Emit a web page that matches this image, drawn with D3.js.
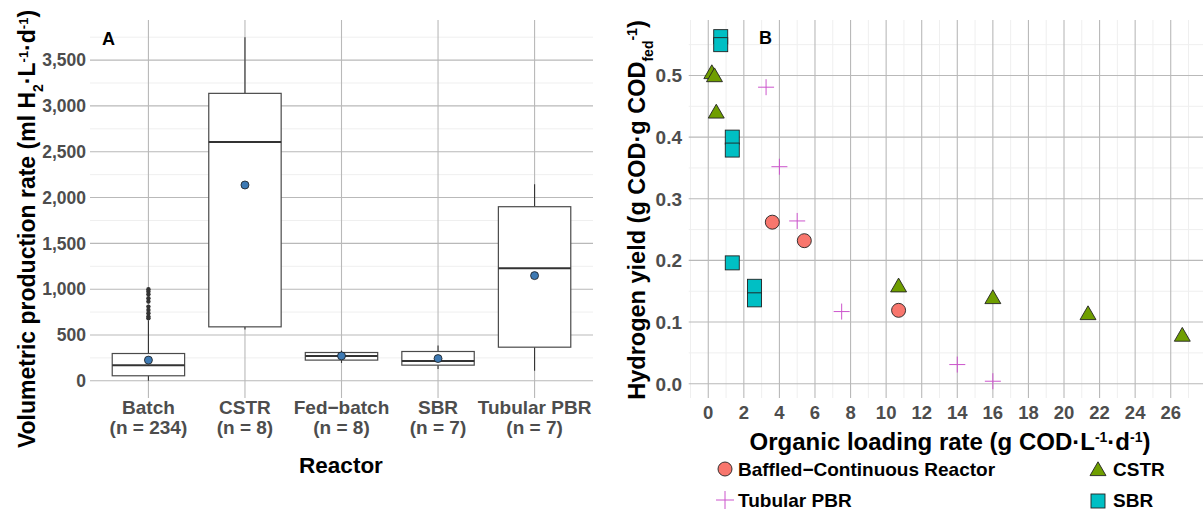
<!DOCTYPE html>
<html>
  <head>
    <meta charset="utf-8">
    <style>
      body { margin: 0; background: white; }
      svg text { font-family: "Liberation Sans", Arial, sans-serif; font-weight: bold; }
    </style>
    <script src="https://d3js.org/d3.v7.min.js"></script>
    <title>hydrogen reactors</title>
  </head>
  <body>
    <div id="my_dataviz"></div>
    <script>
    // ---------------- panel A data (box plots)
    var reactors = ["Batch", "CSTR", "Fed\u2212batch", "SBR", "Tubular PBR"]
    var counts = ["(n = 234)", "(n = 8)", "(n = 8)", "(n = 7)", "(n = 7)"]
    var whiskerLow = [0, 560, 195, 130, 110]
    var q1 = [55, 589, 226, 171, 367]
    var medians = [171, 2606, 272, 215, 1229]
    var q3 = [298, 3137, 309, 320, 1900]
    var whiskerHigh = [660, 3748, 330, 385, 2144]
    var means = [226, 2137, 272, 243, 1148]
    var batchOutliers = [1000, 974, 945, 902, 865, 810, 774, 738, 701, 684]
    var yTicksA = [0, 500, 1000, 1500, 2000, 2500, 3000, 3500]

    // ---------------- panel B data (scatter)
    var baffledOLR = [3.6, 5.4, 10.7]
    var baffledYield = [0.262, 0.232, 0.119]
    var cstrOLR = [0.2, 0.35, 0.45, 10.7, 16.0, 21.35, 26.65]
    var cstrYield = [0.504, 0.499, 0.44, 0.158, 0.139, 0.113, 0.078]
    var sbrOLR = [0.7, 0.7, 1.35, 1.35, 1.35, 2.6, 2.6]
    var sbrYield = [0.563, 0.550, 0.400, 0.379, 0.196, 0.158, 0.136]
    var pbrOLR = [3.25, 4.0, 5.0, 7.5, 14.0, 16.0]
    var pbrYield = [0.481, 0.352, 0.264, 0.117, 0.031, 0.004]
    var xTicksB = [0, 2, 4, 6, 8, 10, 12, 14, 16, 18, 20, 22, 24, 26]
    var yTicksB = [0, 0.1, 0.2, 0.3, 0.4, 0.5]

    var colBaffled = "#F8766D", colCstr = "#6f9e00", colSbr = "#00BFC4", colPbr = "#cc55cc"
    var gridMajor = "#b9b9b9", gridMinor = "#efefef", tickCol = "#4d4d4d"

    var svg = d3.select("#my_dataviz")
      .append("svg")
        .attr("width", 1203)
        .attr("height", 515)

    // ================= PANEL A
    var plotTop = 20, plotBottom = 398
    var xA = d3.scalePoint().domain(reactors).range([90.5, 592.5]).padding(0.6)
    var yA = d3.scaleLinear().domain([-187.5, 3937.5]).range([plotBottom, plotTop])
    var boxW = xA.step() * 0.75

    var gA = svg.append("g")
    // minor grid
    gA.selectAll(".minA").data(d3.range(250, 3800, 500)).enter().append("line")
      .attr("x1", 90).attr("x2", 593)
      .attr("y1", d => yA(d)).attr("y2", d => yA(d))
      .style("stroke", gridMinor).style("stroke-width", 1)
    gA.selectAll(".majA").data(yTicksA).enter().append("line")
      .attr("x1", 90).attr("x2", 593)
      .attr("y1", d => yA(d)).attr("y2", d => yA(d))
      .style("stroke", gridMajor).style("stroke-width", 1.1)
    gA.selectAll(".vA").data(reactors).enter().append("line")
      .attr("x1", d => xA(d)).attr("x2", d => xA(d))
      .attr("y1", plotTop).attr("y2", plotBottom)
      .style("stroke", gridMajor).style("stroke-width", 1.1)

    // y tick labels
    gA.selectAll(".tyA").data(yTicksA).enter().append("text")
      .attr("x", 86).attr("y", d => yA(d)).attr("dy", "0.36em")
      .attr("text-anchor", "end").style("font-size", "17.5px").style("fill", tickCol)
      .text(d => d3.format(",")(d))
    // x tick labels (two lines)
    var xl = gA.selectAll(".txA").data(reactors).enter().append("text")
      .attr("text-anchor", "middle").style("font-size", "19px").style("fill", tickCol)
    xl.append("tspan").attr("x", d => xA(d)).attr("y", 414).text(d => d)
    xl.append("tspan").attr("x", d => xA(d)).attr("y", 434).text((d, i) => counts[i])

    // boxes
    reactors.forEach(function(r, i) {
      var cx = xA(r)
      gA.append("line").attr("x1", cx).attr("x2", cx)
        .attr("y1", yA(q3[i])).attr("y2", yA(whiskerHigh[i]))
        .style("stroke", "#333").style("stroke-width", 1.1)
      gA.append("line").attr("x1", cx).attr("x2", cx)
        .attr("y1", yA(q1[i])).attr("y2", yA(whiskerLow[i]))
        .style("stroke", "#333").style("stroke-width", 1.1)
      gA.append("rect")
        .attr("x", cx - boxW / 2).attr("width", boxW)
        .attr("y", yA(q3[i])).attr("height", yA(q1[i]) - yA(q3[i]))
        .style("fill", "white").style("stroke", "#4a4a4a").style("stroke-width", 1.2)
      gA.append("line").attr("x1", cx - boxW / 2).attr("x2", cx + boxW / 2)
        .attr("y1", yA(medians[i])).attr("y2", yA(medians[i]))
        .style("stroke", "#333").style("stroke-width", 2)
    })
    gA.selectAll(".outl").data(batchOutliers).enter().append("circle")
      .attr("cx", xA("Batch")).attr("cy", d => yA(d)).attr("r", 2.2)
      .style("fill", "#333")
    gA.selectAll(".mean").data(means).enter().append("circle")
      .attr("cx", (d, i) => xA(reactors[i])).attr("cy", d => yA(d)).attr("r", 4)
      .style("fill", "#3d79b3").style("stroke", "#1a1a1a").style("stroke-width", 0.8)

    gA.append("text").attr("x", 102).attr("y", 45).style("font-size", "18px").text("A")
    gA.append("text").attr("x", 341).attr("y", 473).attr("text-anchor", "middle")
      .style("font-size", "22.5px").text("Reactor")

    var ytA = gA.append("text").attr("transform", "translate(35,229) rotate(-90)")
      .attr("text-anchor", "middle").style("font-size", "23px")
    ytA.append("tspan").text("Volumetric production rate (ml H")
    ytA.append("tspan").attr("baseline-shift", "sub").style("font-size", "14px").text("2")
    ytA.append("tspan").text("\u00b7L")
    ytA.append("tspan").attr("baseline-shift", "super").style("font-size", "13px").text("-1")
    ytA.append("tspan").text("\u00b7d")
    ytA.append("tspan").attr("baseline-shift", "super").style("font-size", "13px").text("-1")
    ytA.append("tspan").text(")")

    // ================= PANEL B
    var xB = d3.scaleLinear().domain([-1.1, 28]).range([688.7, 1206.3])
    var yB = d3.scaleLinear().domain([-0.0216, 0.59]).range([plotBottom - 1, plotTop])
    var gB = svg.append("g")

    gB.selectAll(".minBx").data(d3.range(-1, 28, 2)).enter().append("line")
      .attr("x1", d => xB(d)).attr("x2", d => xB(d)).attr("y1", plotTop).attr("y2", plotBottom)
      .style("stroke", gridMinor).style("stroke-width", 1)
    gB.selectAll(".minBy").data([0.05, 0.15, 0.25, 0.35, 0.45, 0.55]).enter().append("line")
      .attr("x1", 688.7).attr("x2", 1206).attr("y1", d => yB(d)).attr("y2", d => yB(d))
      .style("stroke", gridMinor).style("stroke-width", 1)
    gB.selectAll(".majBx").data(xTicksB).enter().append("line")
      .attr("x1", d => xB(d)).attr("x2", d => xB(d)).attr("y1", plotTop).attr("y2", plotBottom)
      .style("stroke", gridMajor).style("stroke-width", 1.1)
    gB.selectAll(".majBy").data(yTicksB).enter().append("line")
      .attr("x1", 688.7).attr("x2", 1206).attr("y1", d => yB(d)).attr("y2", d => yB(d))
      .style("stroke", gridMajor).style("stroke-width", 1.1)

    gB.selectAll(".tyB").data(yTicksB).enter().append("text")
      .attr("x", 682).attr("y", d => yB(d)).attr("dy", "0.36em")
      .attr("text-anchor", "end").style("font-size", "19px").style("fill", tickCol)
      .text(d => d3.format(".1f")(d))
    gB.selectAll(".txB").data(xTicksB).enter().append("text")
      .attr("x", d => xB(d)).attr("y", 419).attr("text-anchor", "middle")
      .style("font-size", "18.5px").style("fill", tickCol).text(d => d)

    var tri = d3.symbol().type(d3.symbolTriangle).size(110)
    // points
    gB.selectAll(".pbr").data(pbrOLR).enter().append("path")
      .attr("d", (d, i) => "M" + (xB(d) - 8) + "," + yB(pbrYield[i]) + "h16M" + xB(d) + "," + (yB(pbrYield[i]) - 8) + "v16")
      .style("stroke", colPbr).style("stroke-width", 1).style("fill", "none")
    gB.selectAll(".baf").data(baffledOLR).enter().append("circle")
      .attr("cx", d => xB(d)).attr("cy", (d, i) => yB(baffledYield[i])).attr("r", 7)
      .style("fill", colBaffled).style("stroke", "#222").style("stroke-width", 0.9)
    gB.selectAll(".cstr").data(cstrOLR).enter().append("path")
      .attr("d", tri).attr("transform", (d, i) => "translate(" + xB(d) + "," + (yB(cstrYield[i]) + 1) + ")")
      .style("fill", colCstr).style("stroke", "#222").style("stroke-width", 0.9)
    gB.selectAll(".sbr").data(sbrOLR).enter().append("rect")
      .attr("x", d => xB(d) - 7).attr("y", (d, i) => yB(sbrYield[i]) - 7)
      .attr("width", 14).attr("height", 14)
      .style("fill", colSbr).style("stroke", "#222").style("stroke-width", 0.9)

    gB.append("text").attr("x", 759).attr("y", 44).style("font-size", "18px").text("B")

    var xtB = gB.append("text").attr("x", 950).attr("y", 450).attr("text-anchor", "middle")
      .style("font-size", "24px")
    xtB.append("tspan").text("Organic loading rate (g COD\u00b7L")
    xtB.append("tspan").attr("baseline-shift", "super").style("font-size", "14px").text("-1")
    xtB.append("tspan").text("\u00b7d")
    xtB.append("tspan").attr("baseline-shift", "super").style("font-size", "14px").text("-1")
    xtB.append("tspan").text(")")

    var ytB = gB.append("text").attr("transform", "translate(645,210) rotate(-90)")
      .attr("text-anchor", "middle").style("font-size", "23.5px")
    ytB.append("tspan").text("Hydrogen yield (g COD\u00b7g COD")
    ytB.append("tspan").attr("baseline-shift", "sub").style("font-size", "14px").text("fed")
    ytB.append("tspan").attr("baseline-shift", "super").style("font-size", "14px").text("-1")
    ytB.append("tspan").text(")")

    // legend
    var lg = svg.append("g").style("font-size", "19px")
    lg.append("circle").attr("cx", 725).attr("cy", 469).attr("r", 7)
      .style("fill", colBaffled).style("stroke", "#222").style("stroke-width", 0.9)
    lg.append("text").attr("x", 738).attr("y", 476).text("Baffled\u2212Continuous Reactor")
    lg.append("path").attr("d", "M716,500h18M725,491v18")
      .style("stroke", colPbr).style("stroke-width", 1)
    lg.append("text").attr("x", 738).attr("y", 507).text("Tubular PBR")
    lg.append("path").attr("d", tri).attr("transform", "translate(1098,471)")
      .style("fill", colCstr).style("stroke", "#222").style("stroke-width", 0.9)
    lg.append("text").attr("x", 1113).attr("y", 476).text("CSTR")
    lg.append("rect").attr("x", 1091).attr("y", 494).attr("width", 14).attr("height", 14)
      .style("fill", colSbr).style("stroke", "#222").style("stroke-width", 0.9)
    lg.append("text").attr("x", 1113).attr("y", 507).text("SBR")
    </script>
  </body>
</html>
